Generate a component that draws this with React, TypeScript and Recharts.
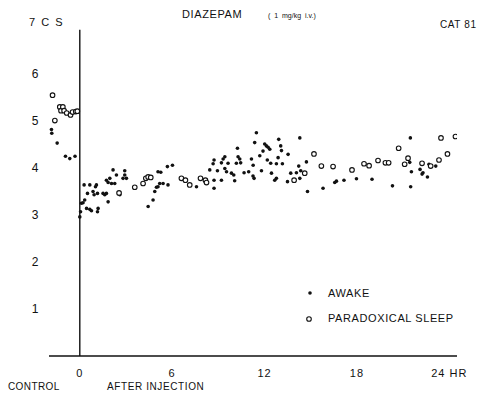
import { ScatterChart, Scatter, XAxis, YAxis, ReferenceLine, Legend } from "recharts";

// [hours, cycles/s]; negative hours = control period
const awakeControl: [number, number][] = [
  [-1.84, 4.82], [-1.82, 4.74], [-1.47, 4.53], [-0.93, 4.25], [-0.65, 4.2], [-0.31, 4.25],
];
const sleepControl: [number, number][] = [
  [-1.77, 5.55], [-1.62, 5.01], [-1.3, 5.3], [-1.22, 5.22], [-1.1, 5.3], [-1.02, 5.22],
  [-0.85, 5.17], [-0.6, 5.13], [-0.47, 5.19], [-0.26, 5.2], [-0.16, 5.21],
];
const awakeAfter: [number, number][] = [
  [0, 2.96], [0.05, 3.07], [0.11, 3.25], [0.21, 3.26], [0.32, 3.32], [0.28, 3.64], [0.65, 3.64],
  [0.44, 3.14], [0.65, 3.12], [0.76, 3.09], [0.5, 3.46], [0.86, 3.5], [1.02, 3.6], [1.08, 3.64],
  [0.93, 3.43], [1.15, 3.46], [1.19, 3.14], [1.15, 3.07], [1.51, 3.46], [1.62, 3.43], [1.73, 3.46],
  [1.84, 3.28], [1.73, 3.74], [1.95, 3.78], [1.84, 3.69], [2.06, 3.67], [2.16, 3.96], [2.27, 3.67],
  [2.38, 3.85], [2.6, 3.43], [2.81, 3.78], [2.92, 3.85], [3.03, 3.78], [2.92, 3.94], [4.44, 3.18],
  [4.76, 3.32], [4.87, 3.5], [4.98, 3.59], [5.08, 3.6], [5.19, 3.67], [5.41, 3.67], [5.08, 3.92],
  [5.26, 3.91], [5.69, 4.03], [6.02, 4.06], [5.73, 3.64], [7.58, 3.6], [8.72, 3.57], [8.72, 3.74],
  [9.2, 3.74], [8.44, 3.96], [8.66, 4.09], [8.72, 4.17], [8.94, 3.94], [9.2, 4.11], [9.31, 4.19],
  [9.42, 3.99], [9.53, 3.92], [9.63, 4.1], [9.85, 3.89], [10.0, 3.85], [10.06, 3.73], [10.17, 4.1],
  [10.28, 4.24], [10.24, 4.42], [9.42, 4.24], [10.39, 4.19], [10.45, 4.11], [11.47, 4.75],
  [11.36, 4.54], [12.01, 4.51], [12.12, 4.47], [12.23, 4.44], [12.34, 4.4], [12.92, 4.61],
  [13.05, 4.47], [13.1, 4.37], [14.29, 4.64], [13.53, 4.29], [11.9, 4.36], [11.69, 4.26],
  [11.15, 4.19], [11.26, 4.06], [12.18, 4.17], [12.4, 4.1], [12.77, 4.09], [13.16, 4.09],
  [12.88, 4.22], [11.8, 3.94], [10.67, 3.9], [10.97, 3.92], [11.25, 3.83], [11.32, 3.78],
  [12.45, 3.89], [12.66, 3.74], [12.77, 3.78], [13.49, 3.71], [13.7, 3.89], [14.07, 3.9],
  [14.35, 3.94], [14.22, 4.04], [14.72, 4.13], [14.29, 3.78], [14.79, 3.5], [15.8, 3.57],
  [16.56, 3.69], [16.67, 3.72], [17.16, 3.74], [17.97, 3.77], [18.98, 3.76], [20.31, 3.62],
  [21.47, 4.64], [21.43, 4.12], [21.54, 3.92], [21.49, 3.6], [22.1, 3.97], [22.29, 3.9],
  [22.23, 3.87], [22.58, 3.81], [22.68, 4.08], [23.12, 4.04],
];
const sleepAfter: [number, number][] = [
  [2.55, 3.47], [3.57, 3.59], [4.11, 3.67], [4.29, 3.78], [4.44, 3.81], [4.61, 3.8], [6.6, 3.78],
  [6.86, 3.74], [7.14, 3.64], [7.84, 3.78], [8.16, 3.74], [8.23, 3.69], [13.92, 3.74], [14.61, 3.89],
  [15.21, 4.3], [15.69, 4.04], [16.45, 4.03], [17.68, 3.96], [18.46, 4.09], [18.79, 4.05],
  [19.37, 4.16], [19.85, 4.11], [20.06, 4.11], [20.71, 4.42], [21.1, 4.08], [21.32, 4.21],
  [22.23, 4.1], [22.79, 4.04], [23.33, 4.17], [23.88, 4.3], [23.46, 4.64], [24.4, 4.67],
];
const hourTicks = [0, 6, 12, 18, 24];
const csTicks = [1, 2, 3, 4, 5, 6, 7];

const INK = "#111";
const FONT = "'Liberation Sans', Arial, sans-serif";

const toRows = (pts: [number, number][]) => pts.map(([hr, cs]) => ({ hr, cs }));
const awake = toRows([...awakeControl, ...awakeAfter]);
const sleep = toRows([...sleepControl, ...sleepAfter]);

const Dot = (p: { cx?: number; cy?: number }) =>
  p.cx == null || p.cy == null ? null : <circle cx={p.cx} cy={p.cy} r={1.8} fill={INK} />;
const Ring = (p: { cx?: number; cy?: number }) =>
  p.cx == null || p.cy == null ? null : (
    <circle cx={p.cx} cy={p.cy} r={2.3} fill="#fff" stroke={INK} strokeWidth={1.1} />
  );

const HourTick = (p: { x?: number; y?: number; payload?: { value: number } }) => {
  const v = p.payload?.value;
  return (
    <text x={p.x} y={377} textAnchor="middle" fontSize={11} fill={INK} fontFamily={FONT} letterSpacing={1}>
      {v === 24 ? "24  HR" : v}
    </text>
  );
};

const CsTick = (p: { x?: number; y?: number; payload?: { value: number } }) => {
  const v = p.payload?.value;
  // the "7" label sits a little high on the original, with the unit beside it
  if (v === 7)
    return (
      <text x={29} y={(p.y ?? 0) - 1} fontSize={11} fill={INK} fontFamily={FONT} xmlSpace="preserve">
        7  C  S
      </text>
    );
  return (
    <text x={35} y={(p.y ?? 0) + 4} textAnchor="middle" fontSize={12} fill={INK} fontFamily={FONT}>
      {v}
    </text>
  );
};

function LegendBox() {
  const row = { fontSize: 11, letterSpacing: 0.6 };
  return (
    <svg width={180} height={50} style={{ fontFamily: FONT }}>
      <circle cx={10} cy={11} r={1.8} fill={INK} />
      <text x={28} y={15} fill={INK} style={row}>AWAKE</text>
      <circle cx={9} cy={37} r={2.3} fill="#fff" stroke={INK} strokeWidth={1.1} />
      <text x={28} y={40} fill={INK} style={row}>PARADOXICAL SLEEP</text>
    </svg>
  );
}

export default function App() {
  return (
    <div style={{ position: "absolute", left: 0, top: 0, width: 491, height: 400, background: "#fff" }}>
      <ScatterChart width={491} height={400} margin={{ top: 27, right: 34, bottom: 14, left: 0 }}>
        <XAxis
          type="number"
          dataKey="hr"
          domain={[-2, 24.5]}
          ticks={hourTicks}
          height={30}
          allowDataOverflow
          tickLine={false}
          axisLine={{ stroke: INK, strokeWidth: 1.4 }}
          tick={<HourTick />}
        />
        <YAxis
          type="number"
          dataKey="cs"
          domain={[0, 7]}
          ticks={csTicks}
          width={49}
          interval={0}
          tickLine={false}
          axisLine={false}
          tick={<CsTick />}
        />
        <ReferenceLine
          segment={[{ x: 0, y: 0 }, { x: 0, y: 6.94 }]}
          stroke={INK}
          strokeWidth={1.4}
        />
        <Legend
          layout="horizontal"
          verticalAlign="middle"
          align="center"
          wrapperStyle={{ left: 300, top: 282, width: 180 }}
          content={() => <LegendBox />}
        />
        <Scatter name="AWAKE" data={awake} shape={<Dot />} isAnimationActive={false} />
        <Scatter name="PARADOXICAL SLEEP" data={sleep} shape={<Ring />} isAnimationActive={false} />
      </ScatterChart>
      <svg
        width={491}
        height={400}
        style={{ position: "absolute", left: 0, top: 0, pointerEvents: "none", fontFamily: FONT }}
      >
        <text x={182} y={18} fontSize={11} fill={INK} letterSpacing={0.6}>DIAZEPAM</text>
        <text x={268} y={18} fontSize={7} fill={INK} xmlSpace="preserve">(  1  mg/kg  i.v.)</text>
        <text x={440} y={28} fontSize={10} fill={INK} letterSpacing={0.6}>CAT 81</text>
        <text x={8} y={390} fontSize={10} fill={INK} letterSpacing={0.4}>CONTROL</text>
        <text x={107} y={390} fontSize={10} fill={INK} letterSpacing={0.6}>AFTER INJECTION</text>
      </svg>
    </div>
  );
}
